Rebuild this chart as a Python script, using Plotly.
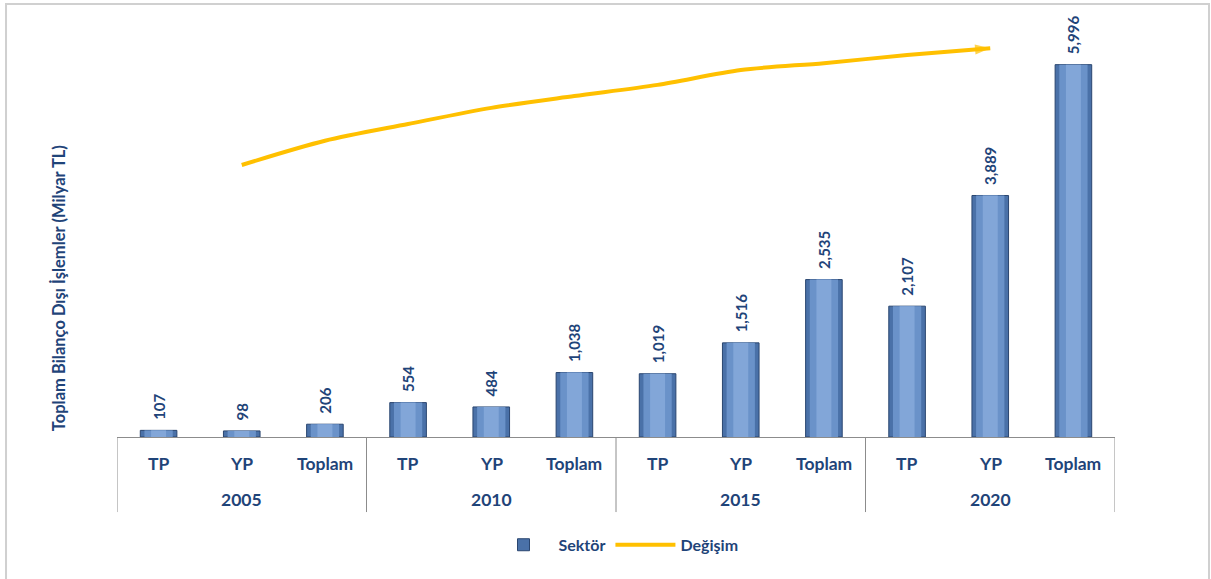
import plotly.graph_objects as go

# Off-balance-sheet transactions by currency type (billion TL)
years = ["2005", "2005", "2005", "2010", "2010", "2010",
         "2015", "2015", "2015", "2020", "2020", "2020"]
kinds = ["TP", "YP", "Toplam"] * 4
sektor = [107, 98, 206, 554, 484, 1038, 1019, 1516, 2535, 2107, 3889, 5996]

# Trend arrow ("Değişim"), running from YP 2005 to YP 2020
trend_years = ["2005", "2005", "2010", "2010", "2010",
               "2015", "2015", "2015", "2020", "2020"]
trend_kinds = ["YP", "Toplam", "TP", "YP", "Toplam",
               "TP", "YP", "Toplam", "TP", "YP"]
trend_vals = [4380, 4770, 5040, 5300, 5490, 5670, 5910, 6020, 6150, 6260]

navy = "#1F4479"
grid_grey = "#8C8C8C"
font_family = "Lato, 'Open Sans', sans-serif"

# Category slots along the x axis
slots = list(zip(years, kinds))
xpos = list(range(len(slots)))
trend_x = [slots.index(k) for k in zip(trend_years, trend_kinds)]

fig = go.Figure()

# Outer bar body (carries the value labels and legend entry);
# a leading en space lifts each rotated label clear of its bar
fig.add_trace(go.Bar(
    x=xpos, y=sektor, name="Sektör",
    width=0.44,
    marker=dict(color="#4A71A8", line=dict(color="#2A4670", width=1)),
    text=[f"\u2002<b>{v:,}</b>" for v in sektor], textposition="outside",
    textangle=-90, cliponaxis=False, constraintext="none",
    textfont=dict(family=font_family, size=15, color=navy, weight="bold"),
))
# Lighter inner faces for a bevelled look
fig.add_trace(go.Bar(
    x=xpos, y=sektor, showlegend=False, hoverinfo="skip",
    width=0.34,
    marker=dict(color="#6A92C9", line=dict(width=0)),
))
fig.add_trace(go.Bar(
    x=xpos, y=sektor, showlegend=False, hoverinfo="skip",
    width=0.18,
    marker=dict(color="#82A6D8", line=dict(width=0)),
))

fig.add_trace(go.Scatter(
    x=trend_x, y=trend_vals, name="Değişim",
    mode="lines+markers",
    line=dict(color="#FFC000", width=4, shape="spline", smoothing=0.8),
    marker=dict(symbol="arrow", angleref="previous", color="#FFC000",
                size=[0] * (len(trend_vals) - 1) + [16], line=dict(width=0)),
))

# Two-level category axis: kind labels, year labels and group dividers
annotations = []
shapes = []
label_font = dict(family=font_family, size=17.5, color=navy)
for i, k in enumerate(kinds):
    annotations.append(dict(
        x=i, y=-0.0624, xref="x", yref="paper", text=f"<b>{k}</b>",
        showarrow=False, xanchor="center", yanchor="middle", font=label_font))
groups = []
for i, y in enumerate(years):
    if not groups or groups[-1][0] != y:
        groups.append([y, i, i])
    else:
        groups[-1][2] = i
for y, first, last in groups:
    annotations.append(dict(
        x=(first + last) / 2, y=-0.149, xref="x", yref="paper",
        text=f"<b>{y}</b>", showarrow=False, xanchor="center",
        yanchor="middle", font=label_font))
edges = [g[1] - 0.5 for g in groups] + [groups[-1][2] + 0.5]
for e in edges:
    shapes.append(dict(type="line", xref="x", yref="paper", x0=e, x1=e,
                       y0=0, y1=-0.18, line=dict(color=grid_grey, width=1)))

annotations.append(dict(
    text="<b>Toplam Bilanço Dışı İşlemler (Milyar TL)</b>",
    xref="paper", yref="paper", x=-0.0581, y=0.357,
    textangle=-90, showarrow=False, xanchor="center", yanchor="middle",
    font=dict(family=font_family, size=16.5, color=navy),
))

# Outer frame of the chart
shapes.append(dict(type="rect", xref="paper", yref="paper",
                   x0=-0.1112, x1=1.0942, y0=-0.45, y1=1.0384,
                   line=dict(color="#D0D0D0", width=2)))

fig.update_layout(
    width=1211, height=579,
    paper_bgcolor="white", plot_bgcolor="white",
    margin=dict(l=117, r=96, t=20, b=142),
    barmode="overlay",
    font=dict(family=font_family, color=navy),
    showlegend=True,
    legend=dict(orientation="h", x=0.5, xanchor="center",
                yref="container", y=0.059, yanchor="middle",
                font=dict(size=16, color=navy, weight="bold"),
                itemwidth=60),
    xaxis=dict(range=[-0.5, len(slots) - 0.5], showline=True,
               linecolor=grid_grey, linewidth=1, showgrid=False,
               zeroline=False, showticklabels=False, ticks="",
               automargin=False, fixedrange=True),
    yaxis=dict(range=[0, 6715], visible=False, showgrid=False,
               automargin=False),
    shapes=shapes,
    annotations=annotations,
)

fig.write_html("out.html")
